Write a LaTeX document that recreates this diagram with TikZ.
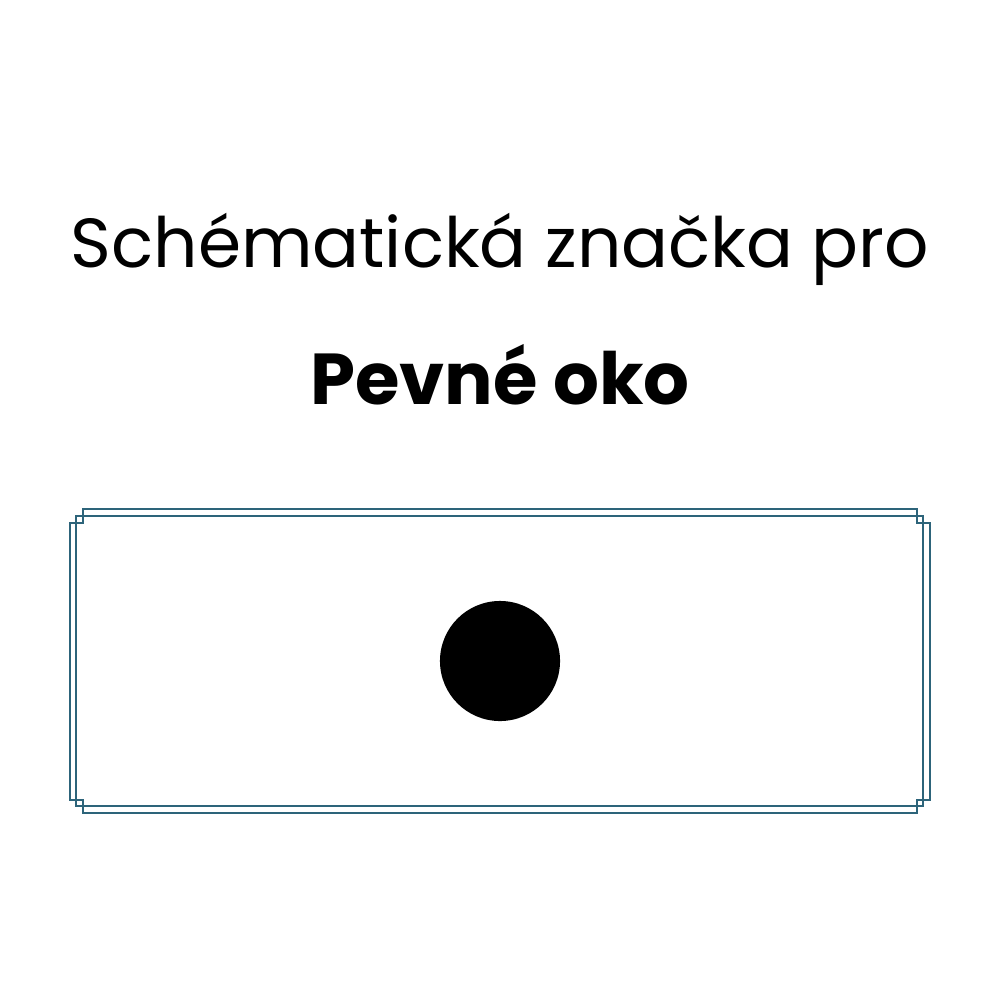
\documentclass[tikz,border=0pt]{standalone}
\usepackage{fontspec}
\setmainfont{Poppins}
\usepackage{tikz}
\usetikzlibrary{positioning}
\definecolor{frameteal}{RGB}{45,100,122}
\tikzset{
  every picture/.append style={line width=0.6pt},
}

\begin{document}
\begin{tikzpicture}[
  x=0.01cm, y=-0.01cm,
  title/.style={anchor=base, inner sep=0pt, font=\fontsize{19.75}{24}\selectfont},
  symname/.style={anchor=base, inner sep=0pt, font=\fontsize{20.5}{25}\selectfont\bfseries},
  frameline/.style={draw=frameteal, line width=0.6pt},
  eye/.style={circle, fill=black, inner sep=0pt, minimum size=1.2cm}
]

% --- Page ---
\fill[white] (0,0) rectangle (1000,1000);

% --- Heading ---
\node[title] (head) at (500,267) {Schématická značka pro};
\node[symname] (name) at (500,404) {Pevné oko};

% --- Frame (stepped outer outline + inner rectangle) ---
\draw[frameline] (83,509) -- (917,509) -- (917,523) -- (930,523) -- (930,800)
  -- (917,800) -- (917,813) -- (83,813) -- (83,800) -- (70,800)
  -- (70,523) -- (83,523) -- cycle;
\draw[frameline] (76,516) rectangle (923,806);

% --- Symbol ---
\node[eye] (dot) at (500,661) {};

\end{tikzpicture}
\end{document}
